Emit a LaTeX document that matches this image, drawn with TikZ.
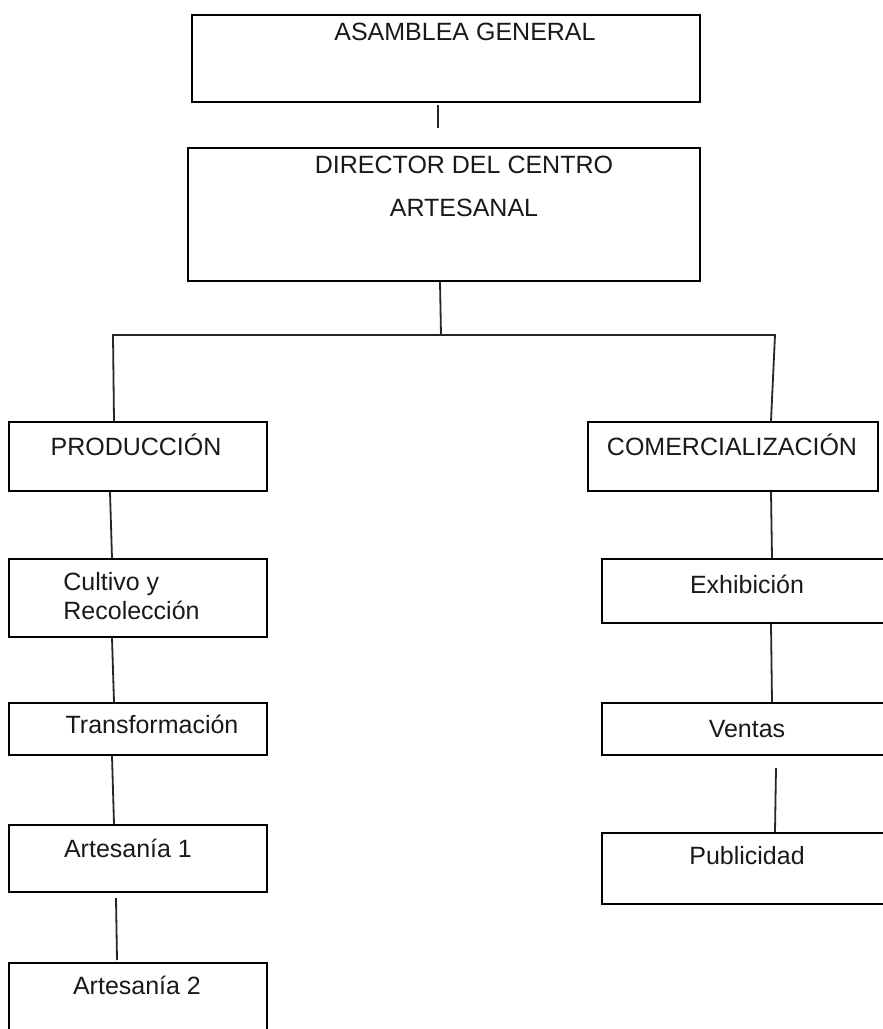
\documentclass[tikz,border=0pt]{standalone}
\usepackage{fontspec}
\setmainfont{Liberation Sans}
\usetikzlibrary{calc}
\begin{document}
\begin{tikzpicture}[x=0.5pt,y=-0.5pt,
  box/.style={draw=black,line width=1pt,inner sep=0pt,rectangle},
  txt/.style={anchor=base,inner sep=0pt,font=\fontsize{12.5}{14.5}\selectfont,text=black!90},
  conn/.style={draw=black!85,line width=0.9pt}]
\useasboundingbox (0,0) rectangle (883,1029);
\clip (0,0) rectangle (883,1029);
% boxes
\node[box,minimum width=254pt,minimum height=43.5pt] (asm) at (446,58.5) {};
\node[box,minimum width=256pt,minimum height=66.5pt] (dir) at (444,214.5) {};
\node[box,minimum width=129pt,minimum height=34.5pt] (prod) at (138,456.5) {};
\node[box,minimum width=145pt,minimum height=34.5pt] (com) at (733,456.5) {};
\node[box,minimum width=129pt,minimum height=39pt] (cult) at (138,598) {};
\node[box,minimum width=129pt,minimum height=26pt] (trans) at (138,729) {};
\node[box,minimum width=129pt,minimum height=33.5pt] (art1) at (138,858.5) {};
\node[box,minimum width=129pt,minimum height=38.5pt] (art2) at (138,1001.5) {};
\node[box,minimum width=149pt,minimum height=32pt] (exh) at (751,591) {};
\node[box,minimum width=149pt,minimum height=26pt] (ven) at (751,729) {};
\node[box,minimum width=149pt,minimum height=35.5pt] (pub) at (751,868.5) {};
% texts
\node[txt] (tasm) at (465,40) {ASAMBLEA GENERAL};
\node[txt] (tdir1) at (464,173) {DIRECTOR DEL CENTRO};
\node[txt] (tdir2) at (464,216) {ARTESANAL};
\node[txt] (tprod) at (136,455) {PRODUCCIÓN};
\node[txt] (tcom) at (732,455) {COMERCIALIZACIÓN};
\node[txt,anchor=base west] (tcult1) at (63,590) {Cultivo y};
\node[txt,anchor=base west] (tcult2) at (63,619) {Recolección};
\node[txt] (ttrans) at (152,733) {Transformación};
\node[txt] (tart1) at (128,857) {Artesanía 1};
\node[txt] (tart2) at (137,994) {Artesanía 2};
\node[txt] (texh) at (747,593) {Exhibición};
\node[txt] (tven) at (747,737) {Ventas};
\node[txt] (tpub) at (747,864) {Publicidad};
% free ends
\coordinate (a1) at (438,105);
\coordinate (a2) at (438,128);
\coordinate (bus) at (441,335);
\coordinate (busl) at (113,335);
\coordinate (busr) at (775,335);
\coordinate (r1) at (116,898);
\coordinate (r2) at (117,960);
\coordinate (v1) at (776,768);
% connectors
\draw[conn] (a1) -- (a2);
\draw[conn] ($(dir.south west)+(253,0)$) -- (bus);
\draw[conn] ($(prod.north west)+(106,0)$) -- (busl) -- (busr) -- ($(com.north west)+(184,0)$);
\draw[conn] ($(prod.south west)+(102,0)$) -- ($(cult.north west)+(104,0)$);
\draw[conn] ($(cult.south west)+(104,0)$) -- ($(trans.north west)+(106,0)$);
\draw[conn] ($(trans.south west)+(104,0)$) -- ($(art1.north west)+(106,0)$);
\draw[conn] (r1) -- (r2);
\draw[conn] ($(com.south west)+(184,0)$) -- ($(exh.north west)+(171,0)$);
\draw[conn] ($(exh.south west)+(170,0)$) -- ($(ven.north west)+(171,0)$);
\draw[conn] (v1) -- ($(pub.north west)+(174,0)$);
\end{tikzpicture}
\end{document}
